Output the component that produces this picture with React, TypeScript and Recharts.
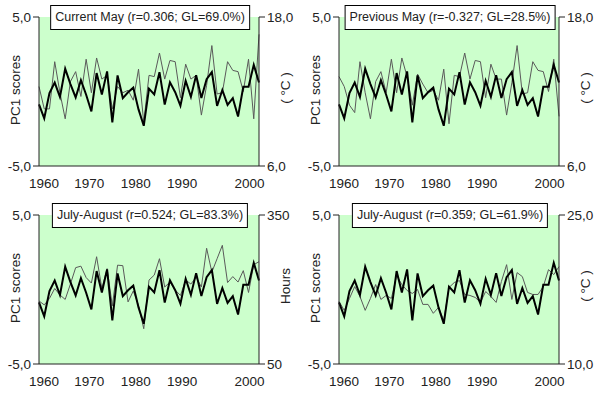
import React from 'react';
import { LineChart, Line, XAxis, YAxis, CartesianGrid } from 'recharts';

const years = [
  1960, 1961, 1962, 1963, 1964, 1965, 1966, 1967, 1968, 1969,
  1970, 1971, 1972, 1973, 1974, 1975, 1976, 1977, 1978, 1979,
  1980, 1981, 1982, 1983, 1984, 1985, 1986, 1987, 1988, 1989,
  1990, 1991, 1992, 1993, 1994, 1995, 1996, 1997, 1998, 1999,
  2000, 2001, 2002,
];

const pc1Scores = [
  -0.86, -1.8, -0.1, 0.6, -0.37, 1.53, 0.5, -0.4, 0.76, -0.22,
  -1.34, 1.24, -0.2, 1.35, -2.08, 1.08, -0.44, -0.05, 0.26, -1.2,
  -2.3, 0.19, -0.2, 1.3, -0.88, 0.62, -0.05, -0.96, 0.72, -0.36,
  1.1, -0.43, 0.82, 1.3, -0.97, 0.1, -0.9, -0.45, -1.68, 0.32,
  0.32, 1.79, 0.6,
];

const currentMayTemp = [
  12.4, 10.6, 10.6, 14.4, 11.9, 9.8, 12.8, 13.6, 11.6, 14.6,
  11.9, 14.7, 13.0, 13.3, 10.6, 12.4, 11.9, 12.1, 11.3, 13.8,
  9.5, 13.3, 13.2, 15.1, 13.0, 14.5, 14.4, 11.5, 14.2, 13.0,
  13.3, 10.1, 12.5, 15.7, 11.8, 11.9, 14.4, 13.7, 13.6, 12.0,
  14.6, 9.8, 16.6,
];

const previousMayTemp = [
  13.2, 12.4, 10.9, 10.3, 14.4, 11.9, 9.8, 12.8, 13.6, 11.9,
  14.6, 11.9, 14.7, 13.2, 10.9, 13.4, 12.6, 11.9, 12.1, 11.3,
  13.8, 9.4, 13.3, 13.2, 15.1, 13.0, 14.5, 14.4, 11.5, 14.2,
  13.0, 13.0, 10.1, 12.7, 15.7, 11.8, 11.9, 14.4, 13.7, 13.6,
  12.0, 14.6, 10.0,
];

const julyAugustHours = [
  177, 169, 182, 202, 189, 180, 211, 244, 247, 224,
  213, 266, 202, 242, 167, 249, 248, 175, 197, 168,
  121, 219, 229, 262, 205, 215, 199, 188, 219, 211,
  225, 205, 283, 235, 262, 289, 214, 226, 215, 238,
  194, 250, 256,
];

const julyAugustTemp = [
  16.3, 15.4, 16.6, 17.8, 16.8, 15.4, 16.6, 18.0, 16.5, 16.9,
  16.6, 18.9, 18.0, 17.4, 17.1, 17.5, 16.0, 16.0, 15.1, 15.7,
  14.4, 17.7, 18.2, 18.4, 17.0, 16.9, 16.7, 16.2, 17.3, 16.8,
  16.2, 18.3, 20.0, 16.5, 19.2, 18.8, 17.2, 17.0, 17.0, 17.8,
  19.5, 19.0, 19.8,
];

const xTicks = [1960, 1970, 1980, 1990, 2000];
const pcTicks = [-5, 5];

const FONT = '"Liberation Sans", Arial, sans-serif';
const TEXT = '#222';
const BORDER = '#222';
const PANEL_W = 300;
const PANEL_H = 198;

const xLabelShift: Record<number, number> = { 1960: 5, 1970: -2, 1980: -8, 1990: -14, 2000: 1 };

const XTick = (props: any) => {
  const { x, y, payload } = props;
  const v = payload.value as number;
  return (
    <text x={x + (xLabelShift[v] || 0)} y={y} dy="0.71em" textAnchor="middle" fontSize={13.5} fontFamily={FONT} fill={TEXT}>
      {v}
    </text>
  );
};

const comma1 = (v: number) => v.toFixed(1).replace('.', ',');

type PanelProps = {
  left: number;
  top: number;
  title: string;
  values: number[];
  domain: [number, number];
  rightTickFmt: (v: number) => string;
  rightLabel: string;
};

const Panel = ({ left, top, title, values, domain, rightTickFmt, rightLabel }: PanelProps) => {
  const data = years.map((y, i) => ({ year: y, pc1: pc1Scores[i], clim: values[i] }));
  return (
    <div style={{ position: 'absolute', left, top, width: PANEL_W, height: PANEL_H }}>
      <LineChart width={PANEL_W} height={PANEL_H} data={data} margin={{ top: 17, right: 0, bottom: 0, left: 0 }}>
        <CartesianGrid horizontal={false} vertical={false} fill="#ccffcc" />
        <XAxis
          dataKey="year"
          type="number"
          domain={[1960, 2002]}
          ticks={xTicks}
          tick={<XTick />}
          tickLine={false}
          tickSize={6}
          tickMargin={6}
          height={32}
          axisLine={{ stroke: BORDER }}
          interval={0}
        />
        <XAxis
          xAxisId="top"
          orientation="top"
          dataKey="year"
          type="number"
          domain={[1960, 2002]}
          tick={false}
          tickLine={false}
          height={0}
          axisLine={{ stroke: BORDER }}
        />
        <YAxis
          yAxisId="left"
          domain={[-5, 5]}
          ticks={pcTicks}
          width={39}
          tickSize={6}
          tickMargin={2}
          tickFormatter={comma1}
          axisLine={{ stroke: BORDER }}
          tickLine={{ stroke: BORDER }}
          tick={{ fontSize: 13.5, fontFamily: FONT, fill: TEXT }}
          interval={0}
        />
        <YAxis
          yAxisId="right"
          orientation="right"
          domain={domain}
          ticks={domain}
          width={41}
          tickSize={6}
          tickMargin={2}
          tickFormatter={rightTickFmt}
          axisLine={{ stroke: BORDER }}
          tickLine={{ stroke: BORDER }}
          tick={{ fontSize: 13.5, fontFamily: FONT, fill: TEXT }}
          interval={0}
        />
        <Line yAxisId="right" type="linear" dataKey="clim" stroke="#5a5a5a" strokeWidth={1} dot={false} isAnimationActive={false} />
        <Line yAxisId="left" type="linear" dataKey="pc1" stroke="#000" strokeWidth={2} dot={false} isAnimationActive={false} />
      </LineChart>
      <div
        style={{
          position: 'absolute', left: 150, top: 5, transform: 'translateX(-50%)',
          border: '1px solid #000', background: '#fff', padding: '0 4px', height: 23, lineHeight: '23px',
          fontFamily: FONT, fontSize: 12.5, color: TEXT, whiteSpace: 'nowrap',
        }}
      >
        {title}
      </div>
      <div
        style={{
          position: 'absolute', left: 15, top: 90, transform: 'translate(-50%, -50%) rotate(-90deg)',
          fontFamily: FONT, fontSize: 13.5, color: TEXT, whiteSpace: 'nowrap',
        }}
      >
        PC1 scores
      </div>
      <div
        style={{
          position: 'absolute', left: 285, top: 88, transform: 'translate(-50%, -50%) rotate(-90deg)',
          fontFamily: FONT, fontSize: 13.5, color: TEXT, whiteSpace: 'nowrap',
        }}
      >
        {rightLabel}
      </div>
    </div>
  );
};

export default function App() {
  return (
    <div style={{ position: 'absolute', left: 0, top: 0, width: 600, height: 396, background: '#fff', overflow: 'hidden' }}>
      <Panel left={0} top={0} title="Current May (r=0.306; GL=69.0%)" values={currentMayTemp} domain={[6, 18]} rightTickFmt={comma1} rightLabel="( °C )" />
      <Panel left={300} top={0} title="Previous May (r=-0.327; GL=28.5%)" values={previousMayTemp} domain={[6, 18]} rightTickFmt={comma1} rightLabel="( °C )" />
      <Panel left={0} top={198} title="July-August (r=0.524; GL=83.3%)" values={julyAugustHours} domain={[50, 350]} rightTickFmt={(v) => String(v)} rightLabel="Hours" />
      <Panel left={300} top={198} title="July-August (r=0.359; GL=61.9%)" values={julyAugustTemp} domain={[10, 25]} rightTickFmt={comma1} rightLabel="( °C )" />
    </div>
  );
}
